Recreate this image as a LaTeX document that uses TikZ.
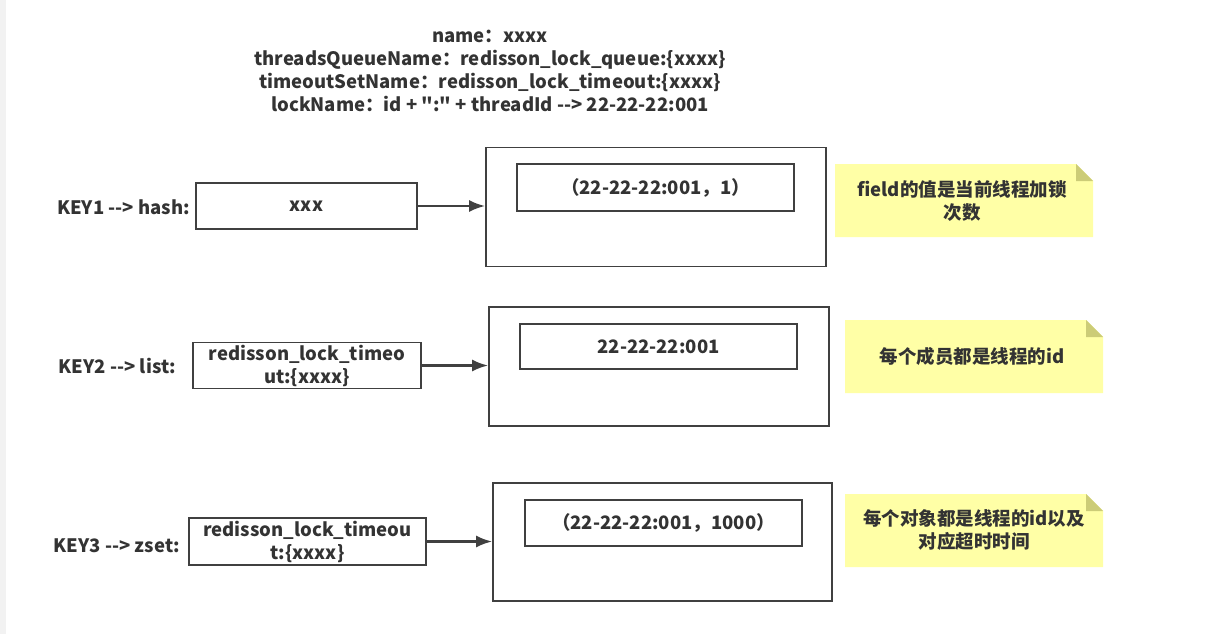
\documentclass[tikz,border=0pt]{standalone}
\usepackage{fontspec}
\usetikzlibrary{arrows.meta}
\setmainfont{Noto Sans CJK SC}[Ligatures=TeXOff]
\begin{document}
\begin{tikzpicture}[x=1pt,y=-1pt,
  every node/.style={font=\bfseries\fontsize{18.5}{23}\selectfont, text=txt, inner sep=0pt},
  box/.style={draw=ln, line width=1.8pt, align=center},
  lbl/.style={anchor=east},
  arr/.style={draw=ln, line width=2.2pt, -{Latex[length=16pt,width=12pt]}},
  notebox/.style={align=center}
]
\definecolor{txt}{HTML}{333333}
\definecolor{ln}{HTML}{404040}
\definecolor{notefill}{HTML}{FFFFA6}
\definecolor{notefold}{HTML}{CCCC77}
\definecolor{strip}{HTML}{F2F2F2}
\useasboundingbox (0,0) rectangle (1223,634);
\fill[white] (0,0) rectangle (1223,634);
\fill[strip] (0,0) rectangle (6,634);

% title
\node[align=center] (title) at (490,71) {name：xxxx\\threadsQueueName：redisson\_lock\_queue:\{xxxx\}\\timeoutSetName：redisson\_lock\_timeout:\{xxxx\}\\lockName：id + ":" + threadId --> 22-22-22:001};

% notes
\newcommand{\drawnote}[5]{% name, x1,y1,x2,y2
  \fill[notefill] (#2,#3) -- (#4-17,#3) -- (#4,#3+17) -- (#4,#5) -- (#2,#5) -- cycle;
  \fill[notefold] (#4-17,#3) -- (#4,#3+17) -- (#4-17,#3+17) -- cycle;
}

% row 1
\node[lbl] (k1) at (190,207) {KEY1 --> hash:};
\node[box, minimum width=221pt, minimum height=46pt] (v1) at (306.5,206) {xxx};
\node[box, minimum width=340pt, minimum height=119pt] (o1) at (656,207) {};
\node[box, minimum width=277pt, minimum height=47pt] (i1) at (655.5,187.5) {（22-22-22:001，1）};
\draw[arr] (v1.east) -- (v1.east -| o1.west);
\drawnote{n1}{835}{164}{1093}{237}
\node[notebox] (n1) at (962,201) {field的值是当前线程加锁\\次数};

% row 2
\node[lbl] (k2) at (176,366) {KEY2 --> list:};
\node[box, minimum width=228pt, minimum height=46pt] (v2) at (307,365.5) {redisson\_lock\_timeo\\ut:\{xxxx\}};
\node[box, minimum width=340pt, minimum height=119pt] (o2) at (659,366.5) {};
\node[box, minimum width=277pt, minimum height=45pt] (i2) at (658.5,346.5) {22-22-22:001};
\draw[arr] (v2.east) -- (v2.east -| o2.west);
\drawnote{n2}{845}{320}{1103}{393}
\node[notebox] (n2) at (972,356) {每个成员都是线程的id};

% row 3
\node[lbl] (k3) at (180,546) {KEY3 --> zset:};
\node[box, minimum width=237pt, minimum height=47pt] (v3) at (307.5,541.5) {redisson\_lock\_timeou\\t:\{xxxx\}};
\node[box, minimum width=339pt, minimum height=118pt] (o3) at (662.5,542) {};
\node[box, minimum width=277pt, minimum height=46pt] (i3) at (663.5,523) {（22-22-22:001，1000）};
\draw[arr] (v3.east) -- (v3.east -| o3.west);
\drawnote{n3}{845}{494}{1103}{567}
\node[notebox] (n3) at (974,530) {每个对象都是线程的id以及\\对应超时时间};
\end{tikzpicture}
\end{document}
